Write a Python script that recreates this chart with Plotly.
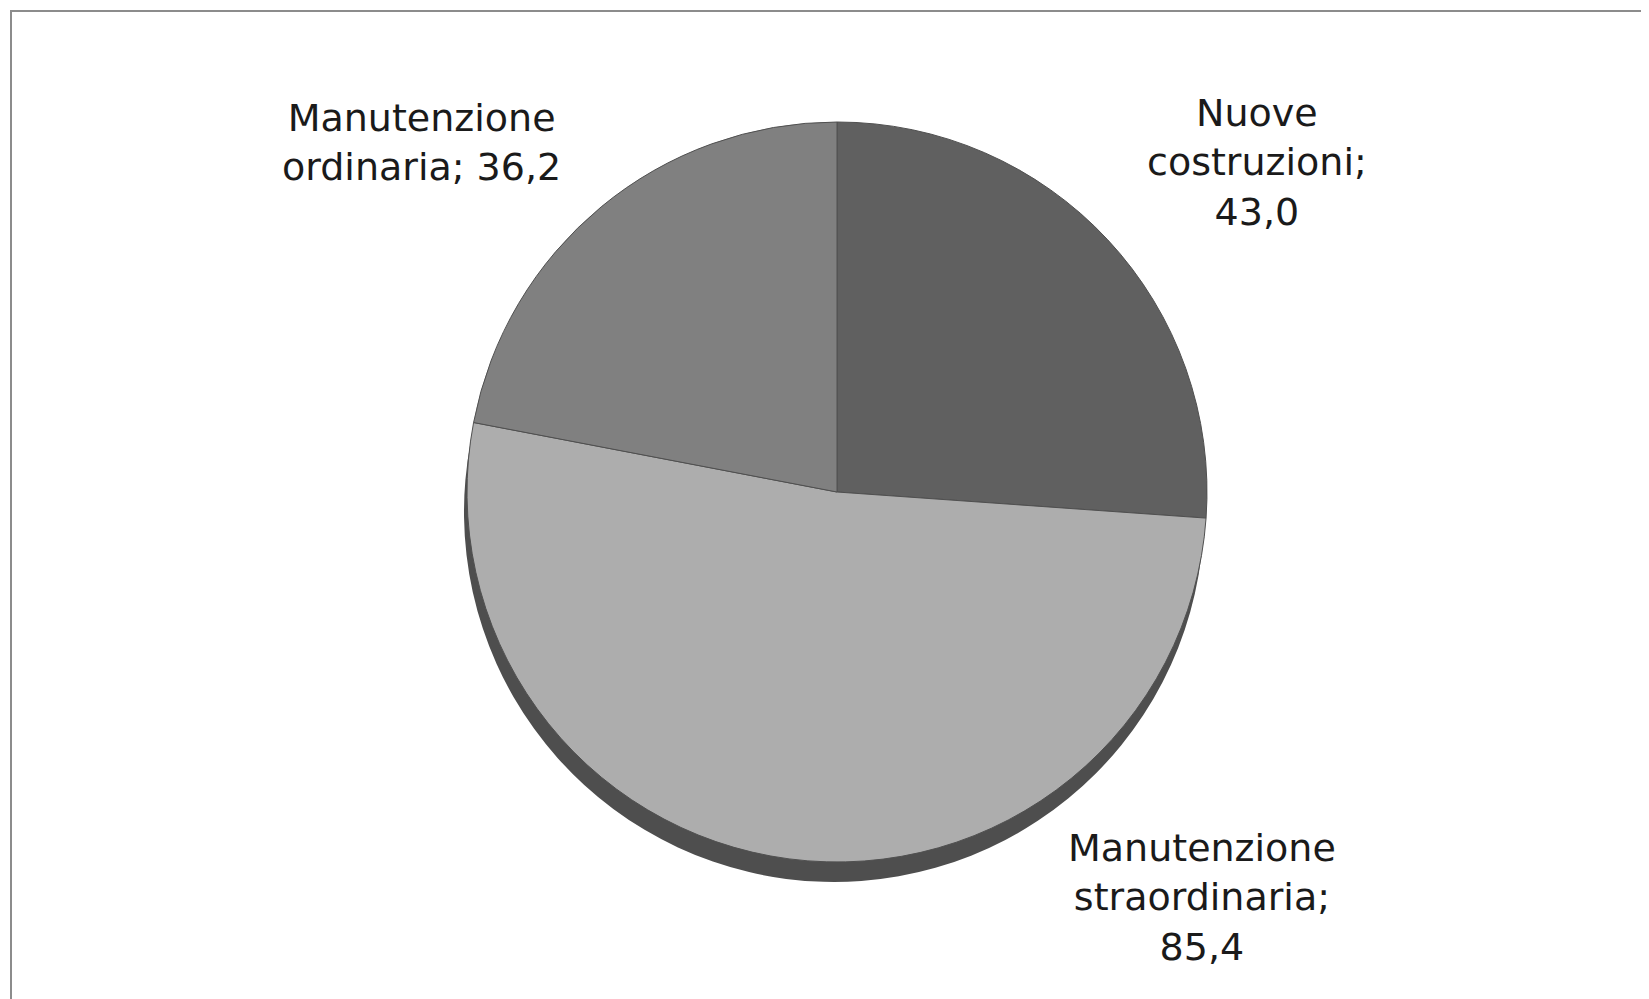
import plotly.graph_objects as go

# data
categories = ["Nuove costruzioni", "Manutenzione straordinaria", "Manutenzione ordinaria"]
values = [43.0, 85.4, 36.2]
label_lines = [["Nuove", "costruzioni;"], ["Manutenzione", "straordinaria;"], ["Manutenzione", "ordinaria;"]]

SLICE_COLORS = ["#606060", "#ADADAD", "#808080"]
SHADOW_COLOR = "#4E4E4E"
W, H = 1649, 999
OFF = 8  # page body margin


def fmt(v):
    return f"{v:.1f}".replace(".", ",")


def pie_domain(cx, cy, r, dx=0, dy=0):
    cx, cy = cx + dx - OFF, cy + dy - OFF
    return dict(x=[(cx - r) / W, (cx + r) / W], y=[1 - (cy + r) / H, 1 - (cy - r) / H])


CX, CY, R = 837, 492, 370

fig = go.Figure()
# shadow / 3d edge
fig.add_trace(go.Pie(
    labels=categories, values=values, sort=False, direction="clockwise", rotation=0,
    marker=dict(colors=[SHADOW_COLOR] * len(values), line=dict(width=0)),
    textinfo="none", hoverinfo="skip", showlegend=False,
    domain=pie_domain(CX, CY, R, dx=-3, dy=20),
))
fig.add_trace(go.Pie(
    labels=categories, values=values, sort=False, direction="clockwise", rotation=0,
    marker=dict(colors=SLICE_COLORS, line=dict(color="#505050", width=1)),
    textinfo="none", showlegend=False,
    hovertemplate="%{label}: %{value:.1f}<extra></extra>",
    domain=pie_domain(CX, CY, R),
))

# label positions (pixels)
label_pos = [(1257, 163), (1202, 897), (421, 143)]
for cat, lines, v, (lx, ly) in zip(categories, label_lines, values, label_pos):
    if cat == "Manutenzione ordinaria":
        text = lines[0] + "<br>" + lines[1] + " " + fmt(v)
    else:
        text = "<br>".join(lines) + "<br>" + fmt(v)
    fig.add_annotation(
        text=text, xref="paper", yref="paper",
        x=(lx - OFF) / W, y=1 - (ly - OFF) / H, xanchor="center", yanchor="middle",
        showarrow=False, align="center",
        font=dict(family="DejaVu Sans", size=38, color="#1a1a1a"),
    )

# outer frame
fig.add_shape(type="rect", xref="paper", yref="paper",
              x0=(11 - OFF) / W, x1=1.02, y0=-0.02, y1=1 - (11 - OFF) / H,
              line=dict(color="#8C8C8C", width=2))

fig.update_layout(
    width=W, height=H,
    margin=dict(l=0, r=0, t=0, b=0),
    paper_bgcolor="white", plot_bgcolor="white",
)
fig.write_html("out.html")
